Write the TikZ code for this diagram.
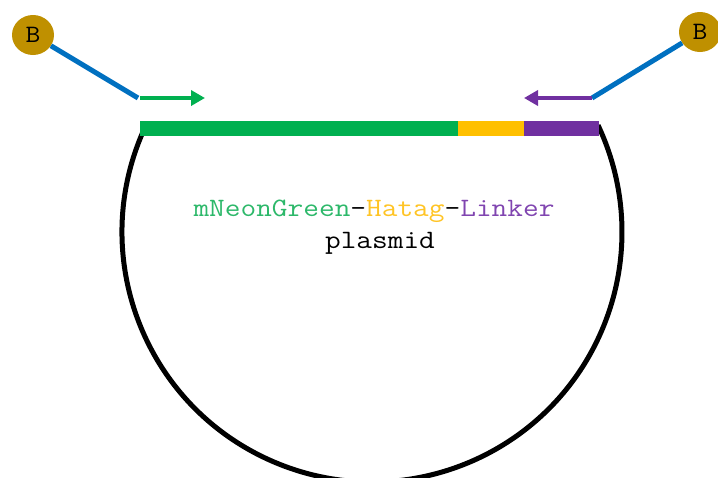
\documentclass[tikz,border=0pt]{standalone}
\usepackage{fontspec}
\usepackage{graphicx}
\usetikzlibrary{arrows.meta,shapes.geometric}
\definecolor{bead}{HTML}{BF9000}
\definecolor{tether}{HTML}{0070C0}
\definecolor{neon}{HTML}{00B050}
\definecolor{hatag}{HTML}{FFC000}
\definecolor{linker}{HTML}{7030A0}
\definecolor{neontext}{HTML}{2DB86A}
\definecolor{hatagtext}{HTML}{FFC425}
\definecolor{linkertext}{HTML}{8045B0}
% monospaced type, widened a little
\newcommand{\widetext}[2]{\scalebox{1.15}[1]{\ttfamily\fontsize{#1}{#1}\selectfont #2}}
\tikzset{
  beadnode/.style={ellipse, fill=bead, minimum width=42pt, minimum height=40pt, inner sep=0pt},
  tetherline/.style={draw=tether, line width=5pt},
  primer/.style={line width=4pt, -{Triangle[length=14pt,width=15pt]}},
  caption/.style={inner sep=0pt}
}
\begin{document}
\begin{tikzpicture}[x=1pt,y=1pt]
\useasboundingbox (0,0) rectangle (718,-477);
% plasmid backbone
\draw[line width=5pt] (372,-232) ++(156.3:250) arc[start angle=156.3, end angle=385.3, radius=250];
% insert: mNeonGreen, HA tag, linker
\fill[neon]   (140,-121) rectangle (458,-136);
\fill[hatag]  (458,-121) rectangle (524,-136);
\fill[linker] (524,-121) rectangle (599,-136);
% beads and tethers
\node[beadnode] (b1) at (33,-35) {\widetext{25}{B}};
\node[beadnode] (b2) at (700,-32) {\widetext{25}{B}};
\coordinate (j1) at (138,-98);
\coordinate (j2) at (592,-98);
\coordinate (f1) at (205,-98);
\coordinate (r1) at (524,-98);
\draw[tetherline] (b1) -- (j1);
\draw[tetherline] (j2) -- (b2);
% primers
\draw[primer, draw=neon, fill=neon] ([xshift=2pt]j1) -- (f1);
\draw[primer, draw=linker, fill=linker] (j2) -- (r1);
% labels
\node[caption] (name) at (374,-211) {\widetext{26.5}{\textcolor{neontext}{mNeonGreen}-\textcolor{hatagtext}{Hatag}-\textcolor{linkertext}{Linker}}};
\node[caption] (kind) at (380,-243) {\widetext{26.5}{plasmid}};
\end{tikzpicture}
\end{document}
